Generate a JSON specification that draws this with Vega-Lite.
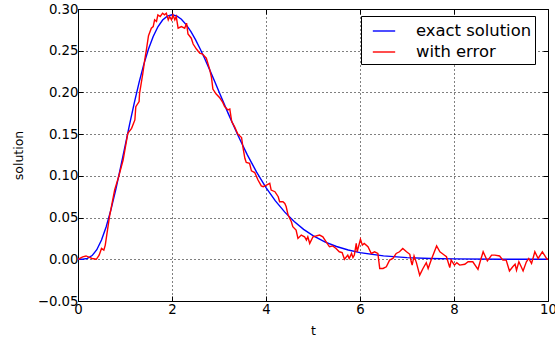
{
  "$schema": "https://vega.github.io/schema/vega-lite/v6.json",
  "autosize": {"type": "none"},
  "padding": {"left": 78, "top": 9, "right": 7, "bottom": 43},
  "width": 470,
  "height": 292,
  "background": "white",
  "config": {
    "font": "DejaVu Sans",
    "view": {"stroke": "black", "strokeWidth": 1},
    "axis": {
      "domain": false,
      "tickColor": "black",
      "tickSize": -5,
      "tickWidth": 1,
      "labelFlush": false,
      "labelOverlap": false,
      "labelColor": "black",
      "labelFont": "DejaVu Sans",
      "labelFontSize": 13.3,
      "titleFont": "DejaVu Sans",
      "titleFontSize": 12.5,
      "titleFontWeight": "normal",
      "titleColor": "black",
      "gridColor": "black",
      "gridDash": [1, 3],
      "gridOpacity": 1,
      "gridWidth": 1
    }
  },
  "datasets": {
    "exact": [
      {"t": 0, "v": 0}, {"t": 0.1, "v": 0.00008}, {"t": 0.2, "v": 0.00107}, {"t": 0.3, "v": 0.00445},
      {"t": 0.4, "v": 0.0115}, {"t": 0.5, "v": 0.023}, {"t": 0.6, "v": 0.039}, {"t": 0.7, "v": 0.0592},
      {"t": 0.8, "v": 0.0827}, {"t": 0.9, "v": 0.1085}, {"t": 1.0, "v": 0.1353}, {"t": 1.1, "v": 0.1622},
      {"t": 1.2, "v": 0.1881}, {"t": 1.3, "v": 0.2121}, {"t": 1.4, "v": 0.2336}, {"t": 1.5, "v": 0.2521},
      {"t": 1.6, "v": 0.2671}, {"t": 1.7, "v": 0.2787}, {"t": 1.8, "v": 0.2868}, {"t": 1.9, "v": 0.2915},
      {"t": 2.0, "v": 0.2931}, {"t": 2.1, "v": 0.2917}, {"t": 2.2, "v": 0.2877}, {"t": 2.3, "v": 0.2813},
      {"t": 2.4, "v": 0.2731}, {"t": 2.5, "v": 0.2632}, {"t": 2.6, "v": 0.2521}, {"t": 2.7, "v": 0.2401},
      {"t": 2.8, "v": 0.2273}, {"t": 2.9, "v": 0.2142}, {"t": 3.0, "v": 0.2008}, {"t": 3.2, "v": 0.1743},
      {"t": 3.4, "v": 0.1489}, {"t": 3.6, "v": 0.1254}, {"t": 3.8, "v": 0.1044}, {"t": 4.0, "v": 0.0859},
      {"t": 4.2, "v": 0.07}, {"t": 4.4, "v": 0.0565}, {"t": 4.6, "v": 0.0452}, {"t": 4.8, "v": 0.0359},
      {"t": 5.0, "v": 0.0284}, {"t": 5.25, "v": 0.0209}, {"t": 5.5, "v": 0.0153}, {"t": 5.75, "v": 0.0111},
      {"t": 6.0, "v": 0.008}, {"t": 6.5, "v": 0.00403}, {"t": 7.0, "v": 0.002}, {"t": 7.5, "v": 0.00097},
      {"t": 8.0, "v": 0.00046}, {"t": 9.0, "v": 0.0001}, {"t": 10.0, "v": 0.00002}
    ],
    "noisy": [
      {"t": 0, "v": 0}, {"t": 0.1, "v": 0.003}, {"t": 0.17, "v": 0.004}, {"t": 0.23, "v": 0.0025},
      {"t": 0.3, "v": 0.001}, {"t": 0.39, "v": 0.0}, {"t": 0.45, "v": 0.005}, {"t": 0.5, "v": 0.013},
      {"t": 0.55, "v": 0.011}, {"t": 0.58, "v": 0.017}, {"t": 0.67, "v": 0.051}, {"t": 0.78, "v": 0.083},
      {"t": 0.87, "v": 0.1}, {"t": 0.96, "v": 0.119}, {"t": 1.06, "v": 0.151}, {"t": 1.14, "v": 0.157},
      {"t": 1.21, "v": 0.167}, {"t": 1.23, "v": 0.183}, {"t": 1.3, "v": 0.189}, {"t": 1.31, "v": 0.199},
      {"t": 1.38, "v": 0.223}, {"t": 1.42, "v": 0.239}, {"t": 1.455, "v": 0.251}, {"t": 1.5, "v": 0.268},
      {"t": 1.56, "v": 0.277}, {"t": 1.6, "v": 0.279}, {"t": 1.63, "v": 0.287}, {"t": 1.67, "v": 0.285},
      {"t": 1.7, "v": 0.293}, {"t": 1.75, "v": 0.291}, {"t": 1.8, "v": 0.295}, {"t": 1.84, "v": 0.293},
      {"t": 1.88, "v": 0.295}, {"t": 1.92, "v": 0.287}, {"t": 1.95, "v": 0.291}, {"t": 1.99, "v": 0.287},
      {"t": 2.02, "v": 0.293}, {"t": 2.06, "v": 0.287}, {"t": 2.09, "v": 0.291}, {"t": 2.13, "v": 0.277},
      {"t": 2.2, "v": 0.279}, {"t": 2.27, "v": 0.277}, {"t": 2.31, "v": 0.283}, {"t": 2.34, "v": 0.27},
      {"t": 2.41, "v": 0.265}, {"t": 2.45, "v": 0.258}, {"t": 2.52, "v": 0.252}, {"t": 2.59, "v": 0.247},
      {"t": 2.65, "v": 0.246}, {"t": 2.73, "v": 0.241}, {"t": 2.8, "v": 0.228}, {"t": 2.84, "v": 0.218},
      {"t": 2.87, "v": 0.204}, {"t": 2.94, "v": 0.198}, {"t": 3.01, "v": 0.194}, {"t": 3.08, "v": 0.188},
      {"t": 3.12, "v": 0.183}, {"t": 3.19, "v": 0.179}, {"t": 3.23, "v": 0.18}, {"t": 3.27, "v": 0.165},
      {"t": 3.33, "v": 0.159}, {"t": 3.4, "v": 0.15}, {"t": 3.48, "v": 0.146}, {"t": 3.51, "v": 0.134},
      {"t": 3.55, "v": 0.121}, {"t": 3.58, "v": 0.116}, {"t": 3.65, "v": 0.115}, {"t": 3.69, "v": 0.106},
      {"t": 3.76, "v": 0.104}, {"t": 3.83, "v": 0.095}, {"t": 3.9, "v": 0.088}, {"t": 3.94, "v": 0.087},
      {"t": 4.01, "v": 0.089}, {"t": 4.08, "v": 0.091}, {"t": 4.11, "v": 0.083}, {"t": 4.19, "v": 0.081},
      {"t": 4.26, "v": 0.075}, {"t": 4.29, "v": 0.069}, {"t": 4.36, "v": 0.069}, {"t": 4.4, "v": 0.067},
      {"t": 4.43, "v": 0.063}, {"t": 4.47, "v": 0.053}, {"t": 4.54, "v": 0.045}, {"t": 4.57, "v": 0.039},
      {"t": 4.64, "v": 0.035}, {"t": 4.68, "v": 0.025}, {"t": 4.75, "v": 0.029}, {"t": 4.82, "v": 0.027},
      {"t": 4.86, "v": 0.023}, {"t": 4.89, "v": 0.027}, {"t": 4.93, "v": 0.019}, {"t": 5.0, "v": 0.027},
      {"t": 5.14, "v": 0.029}, {"t": 5.21, "v": 0.027}, {"t": 5.28, "v": 0.021}, {"t": 5.35, "v": 0.015},
      {"t": 5.42, "v": 0.016}, {"t": 5.49, "v": 0.013}, {"t": 5.56, "v": 0.009}, {"t": 5.62, "v": 0.008},
      {"t": 5.67, "v": 0.0}, {"t": 5.74, "v": 0.005}, {"t": 5.77, "v": 0.001}, {"t": 5.82, "v": 0.007},
      {"t": 5.85, "v": 0.002}, {"t": 5.88, "v": 0.005}, {"t": 5.92, "v": 0.019}, {"t": 5.94, "v": 0.009},
      {"t": 6.01, "v": 0.024}, {"t": 6.05, "v": 0.017}, {"t": 6.09, "v": 0.019}, {"t": 6.17, "v": 0.015},
      {"t": 6.24, "v": 0.007}, {"t": 6.31, "v": 0.009}, {"t": 6.38, "v": 0.007}, {"t": 6.42, "v": -0.011},
      {"t": 6.49, "v": -0.011}, {"t": 6.56, "v": -0.009}, {"t": 6.63, "v": -0.001}, {"t": 6.7, "v": 0.001},
      {"t": 6.77, "v": 0.007}, {"t": 6.84, "v": 0.009}, {"t": 6.91, "v": 0.013}, {"t": 6.99, "v": 0.009},
      {"t": 7.06, "v": 0.006}, {"t": 7.09, "v": -0.003}, {"t": 7.11, "v": -0.007}, {"t": 7.15, "v": 0.004},
      {"t": 7.2, "v": -0.004}, {"t": 7.27, "v": -0.019}, {"t": 7.34, "v": -0.011}, {"t": 7.41, "v": -0.004},
      {"t": 7.45, "v": -0.011}, {"t": 7.52, "v": 0.0}, {"t": 7.63, "v": 0.016}, {"t": 7.7, "v": 0.009},
      {"t": 7.77, "v": 0.006}, {"t": 7.84, "v": 0.003}, {"t": 7.91, "v": -0.01}, {"t": 7.94, "v": -0.001},
      {"t": 8.01, "v": -0.007}, {"t": 8.06, "v": -0.004}, {"t": 8.12, "v": -0.007}, {"t": 8.23, "v": -0.006},
      {"t": 8.3, "v": -0.003}, {"t": 8.4, "v": -0.003}, {"t": 8.51, "v": -0.012}, {"t": 8.56, "v": -0.002},
      {"t": 8.62, "v": 0.009}, {"t": 8.71, "v": -0.002}, {"t": 8.8, "v": 0.005}, {"t": 8.87, "v": 0.005},
      {"t": 8.97, "v": 0.004}, {"t": 9.04, "v": -0.001}, {"t": 9.11, "v": -0.001}, {"t": 9.18, "v": -0.014},
      {"t": 9.25, "v": -0.009}, {"t": 9.3, "v": -0.006}, {"t": 9.33, "v": -0.013}, {"t": 9.38, "v": -0.003},
      {"t": 9.43, "v": -0.009}, {"t": 9.47, "v": -0.014}, {"t": 9.54, "v": -0.003}, {"t": 9.59, "v": 0.001},
      {"t": 9.65, "v": -0.005}, {"t": 9.72, "v": 0.009}, {"t": 9.79, "v": 0.001}, {"t": 9.88, "v": 0.009},
      {"t": 9.98, "v": 0.0}, {"t": 10.0, "v": 0.0}
    ]
  },
  "layer": [
    {
      "data": {"name": "exact"},
      "transform": [{"calculate": "'exact solution'", "as": "series"}],
      "mark": {"type": "line", "strokeWidth": 1.4, "clip": true},
      "encoding": {
        "x": {
          "field": "t", "type": "quantitative",
          "scale": {"domain": [0, 10], "nice": false, "zero": false},
          "axis": {"orient": "bottom", "values": [0, 2, 4, 6, 8, 10], "format": "d", "title": "t", "labelPadding": 6, "titleX": 235, "titleY": 29, "titleBaseline": "middle", "titleAlign": "center", "grid": true}
        },
        "y": {
          "field": "v", "type": "quantitative",
          "scale": {"domain": [-0.05, 0.3], "nice": false, "zero": false},
          "axis": {"orient": "left", "values": [-0.05, 0, 0.05, 0.1, 0.15, 0.2, 0.25, 0.3], "format": ".2f", "title": "solution", "labelPadding": 5, "titleX": -60, "titleY": 146, "titleAngle": 270, "titleBaseline": "middle", "titleAlign": "center", "grid": true}
        },
        "color": {
          "field": "series", "type": "nominal",
          "scale": {"domain": ["exact solution", "with error"], "range": ["#0000ff", "#ff0000"]},
          "legend": {
            "title": null,
            "orient": "none",
            "legendX": 283,
            "legendY": 7,
            "padding": 3,
            "strokeColor": "black",
            "fillColor": "white",
            "cornerRadius": 0,
            "labelFont": "DejaVu Sans",
            "labelFontSize": 16.4,
            "labelColor": "black",
            "labelOffset": 20,
            "symbolOffset": 8,
            "symbolType": "stroke",
            "symbolSize": 500,
            "symbolStrokeWidth": 1.4,
            "rowPadding": 0
          }
        }
      }
    },
    {
      "data": {"name": "noisy"},
      "transform": [{"calculate": "'with error'", "as": "series"}],
      "mark": {"type": "line", "strokeWidth": 1.4, "clip": true},
      "encoding": {
        "x": {
          "field": "t", "type": "quantitative",
          "axis": {"orient": "top", "values": [0, 2, 4, 6, 8, 10], "labels": false, "title": null, "grid": false}
        },
        "y": {
          "field": "v", "type": "quantitative",
          "axis": {"orient": "right", "values": [-0.05, 0, 0.05, 0.1, 0.15, 0.2, 0.25, 0.3], "labels": false, "title": null, "grid": false}
        },
        "color": {"field": "series", "type": "nominal"}
      }
    }
  ]
}
